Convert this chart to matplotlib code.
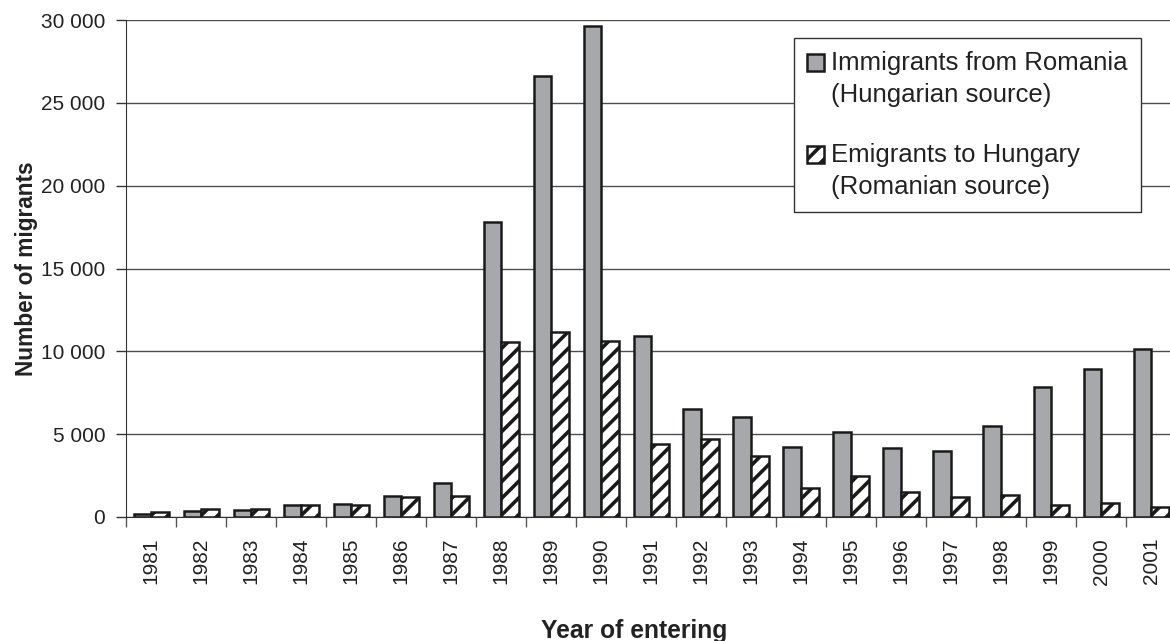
import matplotlib
matplotlib.use("Agg")
import matplotlib.pyplot as plt
import matplotlib.patches as mpatches
from matplotlib.ticker import FixedLocator, FuncFormatter, NullFormatter
from matplotlib.legend_handler import HandlerPatch
from matplotlib.container import BarContainer
import numpy as np

# data
years = [str(y) for y in range(1981, 2002)]
immigrants_hu_source = [200, 370, 400, 750, 770, 1260, 2070, 17800, 26600, 29620, 10930,
                        6520, 6050, 4250, 5120, 4150, 3990, 5490, 7860, 8930, 10140]
emigrants_ro_source = [280, 500, 470, 750, 750, 1200, 1260, 10540, 11150, 10600, 4430,
                       4720, 3690, 1780, 2490, 1480, 1235, 1300, 750, 870, 630]
label_hu = "Immigrants from Romania\n(Hungarian source)"
label_ro = "Emigrants to Hungary\n(Romanian source)"

plt.rcParams['font.family'] = ['Liberation Sans', 'DejaVu Sans']
plt.rcParams['hatch.linewidth'] = 2.6
plt.rcParams['hatch.color'] = '#111111'

text_col = '#222222'
edge_col = '#1a1a1a'
gray = '#a7a8ac'

fig = plt.figure(figsize=(11.7, 6.41), dpi=100)
# axes runs a bit past the right edge, like the cropped original
ax = fig.add_axes([126 / 1170, 124 / 641, 1050 / 1170, 497 / 641])

x = np.arange(len(years))
w = 0.35
b1 = ax.bar(x - w / 2, immigrants_hu_source, width=w, color=gray,
            edgecolor=edge_col, linewidth=1.8, label=label_hu, zorder=3)
b2 = ax.bar(x + w / 2, emigrants_ro_source, width=w, color='white',
            edgecolor=edge_col, linewidth=1.8, hatch='//', label=label_ro, zorder=3)

ax.set_xlim(-0.5, len(years) - 0.5)
ax.set_ylim(0, 30000)

# y axis
ax.set_yticks(np.arange(0, 30001, 5000))
ax.yaxis.set_major_formatter(FuncFormatter(lambda v, p: f'{int(v):,}'.replace(',', ' ')))
ax.tick_params(axis='y', direction='out', length=7, width=1, color='#333333',
               labelsize=15, labelcolor=text_col, pad=8)
ax.yaxis.grid(True, color='#4d4d4d', linewidth=1.0)
ax.set_axisbelow(True)

# x axis: ticks between categories, labels at centres
ax.xaxis.set_major_locator(FixedLocator(np.arange(-0.5, len(years), 1.0)))
ax.xaxis.set_major_formatter(NullFormatter())
ax.set_xticks(x, years, minor=True, rotation=90)
ax.tick_params(axis='x', which='major', direction='out', length=7, width=1, color='#555555')
ax.tick_params(axis='x', which='minor', length=0, labelsize=15, labelcolor=text_col, pad=15)

for s in ['top', 'right']:
    ax.spines[s].set_visible(False)
ax.spines['left'].set_color('#333333')
ax.spines['bottom'].set_color('#333333')

ax.set_ylabel('Number of migrants', fontsize=16.3, fontweight='bold', color=text_col)
ax.yaxis.set_label_coords(-0.084, 0.5)
ax.set_xlabel('Year of entering', fontsize=17.7, fontweight='bold', color=text_col)
ax.xaxis.set_label_coords(0.484, -0.205)


# legend square sits next to the first line of each label
def square_top(legend, orig_handle, xdescent, ydescent, width, height, fontsize):
    return mpatches.Rectangle((-xdescent, -ydescent + 0.66 * fontsize), width, height)


def from_first_bar(handle, orig):
    handle.update_from(orig.patches[0])


leg = ax.legend(handles=[b1, b2], loc='upper left',
                bbox_to_anchor=(794 / 1170, 603 / 641), bbox_transform=fig.transFigure,
                fontsize=18.5, frameon=True, fancybox=False, framealpha=1,
                edgecolor='#333333', borderaxespad=0, borderpad=0.5,
                handlelength=0.65, handleheight=0.65, handletextpad=0.3,
                labelspacing=1.4,
                handler_map={BarContainer: HandlerPatch(patch_func=square_top,
                                                        update_func=from_first_bar)})
leg.get_frame().set_linewidth(1.0)
for t in leg.get_texts():
    t.set_color(text_col)
    t.set_linespacing(1.42)

fig.savefig('out.png', dpi=100)
